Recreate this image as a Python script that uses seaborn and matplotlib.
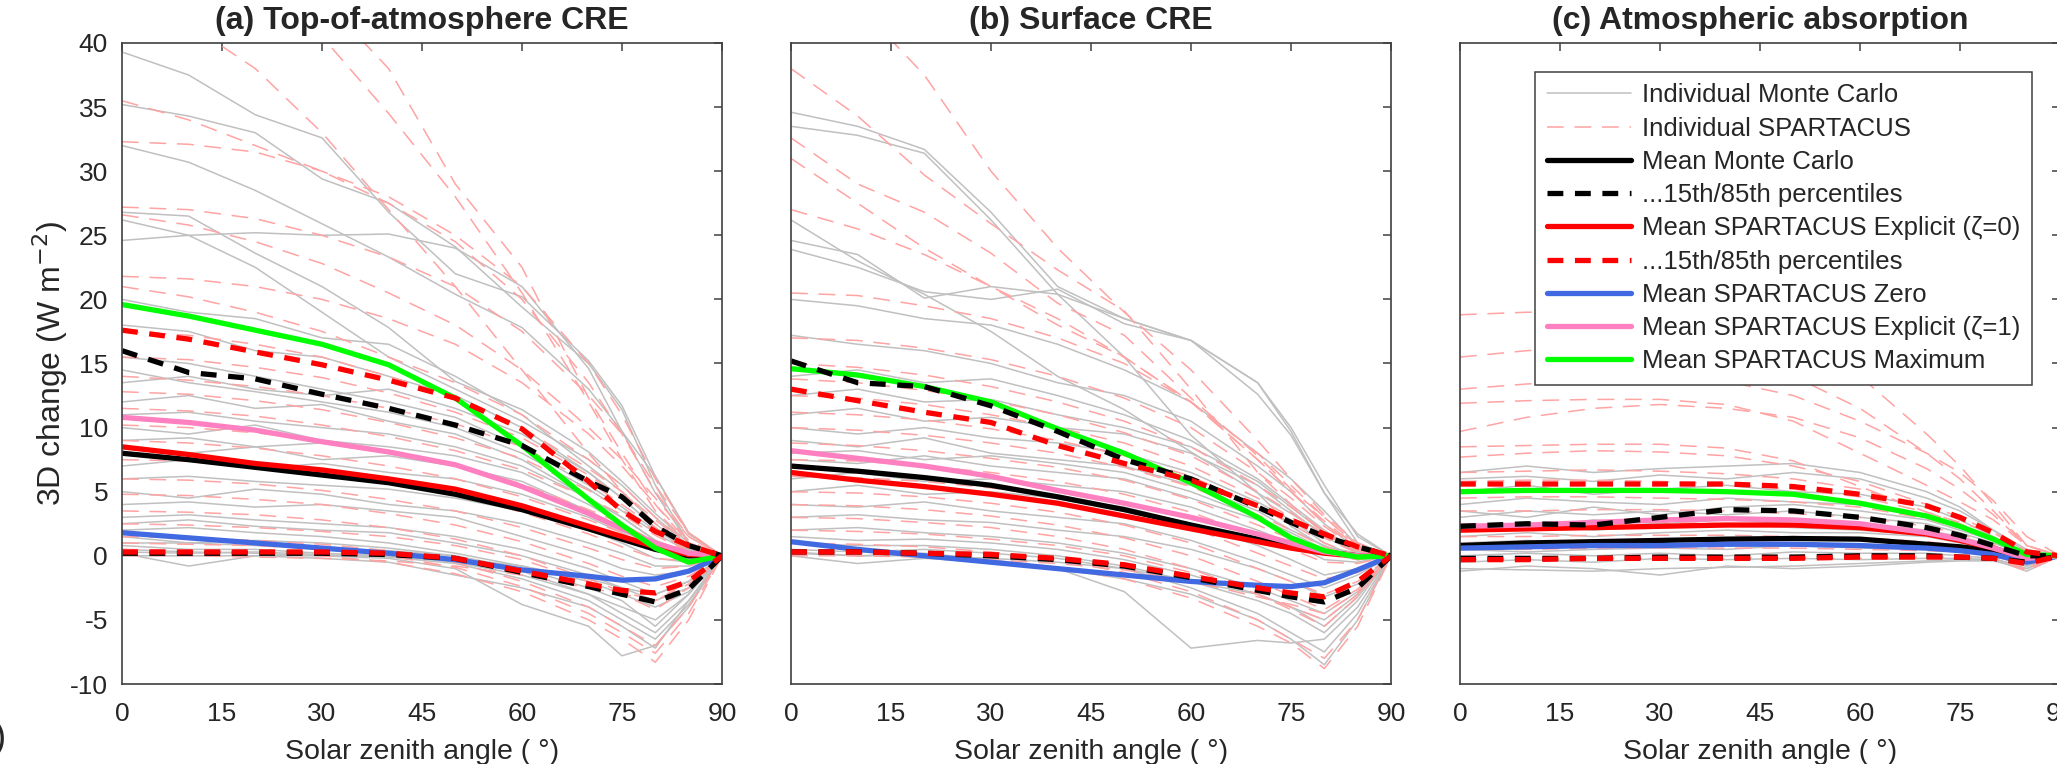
"""
3D radiative effect vs solar zenith angle: Monte Carlo vs SPARTACUS
"""
import pandas as pd
import matplotlib
matplotlib.use('Agg')
import matplotlib.pyplot as plt
import seaborn as sns
from matplotlib.lines import Line2D

# solar zenith angle grid (degrees)
sza = [0, 10, 20, 30, 40, 50, 60, 70, 75, 80, 85, 90]

# ---------------- (a) top-of-atmosphere CRE ----------------
mc_a = [
    [39.3, 37.5, 34.4, 32.6, 26.8, 22.0, 20.2, 15.2, 11.7, 6.2, 1.8, 0],
    [35.2, 34.3, 33.0, 29.4, 27.5, 24.1, 19.4, 15.0, 11.4, 5.5, 1.0, 0],
    [32.0, 30.7, 28.5, 25.9, 23.3, 20.4, 17.8, 13.0, 9.7, 6.2, 1.7, 0],
    [26.8, 26.5, 23.6, 21.0, 17.8, 13.6, 11.4, 8.1, 5.8, 3.3, 1.0, 0],
    [24.6, 25.0, 25.2, 25.0, 25.1, 24.0, 21.0, 14.6, 9.7, 4.9, 1.0, 0],
    [26.2, 25.0, 22.5, 19.0, 15.5, 13.0, 10.5, 7.5, 5.5, 3.0, 0.8, 0],
    [20.0, 19.0, 18.5, 17.0, 16.5, 14.0, 11.0, 7.0, 5.0, 2.5, 0.5, 0],
    [18.0, 17.5, 16.0, 15.5, 14.0, 12.5, 10.0, 6.5, 4.5, 2.2, 0.4, 0],
    [15.5, 15.0, 14.0, 13.0, 12.0, 10.8, 8.5, 5.5, 3.8, 2.0, 0.5, 0],
    [14.5, 13.5, 12.8, 12.0, 11.2, 10.0, 8.0, 5.2, 3.5, 1.8, 0.3, 0],
    [13.5, 14.0, 13.0, 12.5, 13.0, 11.5, 9.5, 6.5, 4.5, 2.2, 0.3, 0],
    [12.0, 12.5, 11.5, 11.8, 10.5, 9.5, 7.5, 4.5, 3.0, 1.2, 0.2, 0],
    [11.0, 11.2, 10.5, 10.0, 9.5, 8.5, 7.0, 4.5, 3.0, 1.2, 0.0, 0],
    [10.0, 9.5, 10.2, 9.0, 8.5, 7.8, 6.5, 4.0, 2.5, 1.0, 0.0, 0],
    [9.0, 9.2, 8.5, 8.8, 8.0, 7.0, 5.8, 3.5, 2.2, 0.8, -0.2, 0],
    [8.5, 8.0, 8.5, 7.5, 7.8, 7.0, 5.5, 3.5, 2.0, 0.8, -0.3, 0],
    [7.0, 7.5, 6.8, 7.2, 6.5, 6.0, 4.8, 3.0, 1.8, 0.5, -0.2, 0],
    [6.0, 6.2, 5.8, 5.5, 5.2, 4.5, 3.5, 2.0, 1.0, -0.2, -0.5, 0],
    [5.0, 4.5, 5.2, 4.8, 4.0, 3.5, 2.5, 1.0, 0.2, -0.8, -0.8, 0],
    [4.0, 4.2, 3.8, 4.0, 3.5, 3.0, 1.5, 0.0, -1.0, -1.5, -1.2, 0],
    [3.0, 3.2, 2.8, 2.5, 2.2, 1.5, 0.5, -1.0, -2.0, -3.0, -2.0, 0],
    [2.5, 2.8, 2.3, 2.0, 1.8, 1.0, 0.0, -1.5, -2.5, -3.5, -2.5, 0],
    [2.0, 2.2, 1.8, 1.5, 1.0, 0.2, -0.8, -2.0, -3.0, -4.0, -2.8, 0],
    [1.5, 1.0, 1.2, 1.0, 0.6, 0.0, -1.2, -3.0, -4.5, -6.0, -3.5, 0],
    [1.0, 1.0, 0.8, 0.6, 0.4, 0.0, -1.0, -2.5, -3.5, -5.5, -3.0, 0],
    [0.8, 0.5, 0.5, 0.2, 0.0, -0.5, -1.5, -3.0, -4.0, -5.0, -3.0, 0],
    [0.5, 0.3, 0.2, 0.0, -0.2, -1.0, -3.8, -5.5, -7.8, -7.0, -4.0, 0],
    [0.3, 0.2, 0.3, 0.1, -0.1, -0.6, -1.8, -3.5, -5.0, -6.5, -3.8, 0],
    [0.2, -0.8, 0.0, -0.2, -0.5, -1.5, -2.5, -4.0, -5.5, -7.2, -3.5, 0],
    [0.0, 0.0, 0.0, 0.0, 0.0, -0.2, -0.8, -1.8, -2.5, -3.0, -2.0, 0],
]
sp_a = [
    [43.0, 41.5, 38.0, 33.0, 27.0, 21.0, 14.5, 8.0, 5.0, 2.5, 0.7, 0],
    [48.0, 46.5, 44.0, 40.5, 34.5, 28.0, 20.5, 12.0, 7.5, 3.5, 1.0, 0],
    [50.0, 49.0, 46.5, 43.5, 38.0, 29.0, 22.5, 12.3, 8.0, 4.0, 1.0, 0],
    [35.5, 34.0, 32.0, 30.0, 27.5, 24.5, 20.0, 13.5, 9.5, 5.0, 1.5, 0],
    [32.3, 32.1, 31.5, 30.0, 28.0, 25.0, 21.0, 15.0, 11.0, 6.0, 1.8, 0],
    [27.2, 27.0, 26.3, 25.0, 23.3, 21.0, 17.5, 12.5, 9.5, 5.5, 1.8, 0],
    [26.6, 25.8, 24.5, 22.8, 20.5, 18.0, 14.5, 10.0, 7.5, 4.5, 1.5, 0],
    [21.8, 21.6, 21.0, 20.0, 18.5, 16.5, 13.5, 9.5, 7.0, 4.0, 1.2, 0],
    [21.0, 20.2, 19.0, 17.5, 15.5, 13.5, 11.0, 7.5, 5.5, 3.0, 1.0, 0],
    [17.5, 17.2, 16.5, 15.5, 14.0, 12.3, 10.0, 6.8, 5.0, 2.8, 0.8, 0],
    [15.5, 15.3, 14.7, 13.9, 12.7, 11.2, 9.2, 6.3, 4.5, 2.5, 0.7, 0],
    [14.0, 13.7, 13.2, 12.5, 11.5, 10.3, 8.5, 5.8, 4.0, 2.2, 0.6, 0],
    [12.8, 12.6, 12.1, 11.4, 10.4, 9.2, 7.6, 5.1, 3.6, 1.9, 0.4, 0],
    [11.5, 11.3, 10.9, 10.2, 9.3, 8.2, 6.7, 4.5, 3.2, 1.6, 0.3, 0],
    [10.2, 10.0, 9.6, 9.0, 8.2, 7.1, 5.6, 3.6, 2.5, 1.1, 0.1, 0],
    [9.0, 8.8, 8.4, 7.8, 7.0, 6.0, 4.6, 2.8, 1.8, 0.7, 0.0, 0],
    [7.5, 7.4, 7.0, 6.5, 5.7, 4.8, 3.4, 1.7, 0.7, -0.2, -0.4, 0],
    [6.0, 5.9, 5.6, 5.1, 4.4, 3.5, 2.2, 0.6, -0.3, -1.0, -0.8, 0],
    [4.8, 4.7, 4.4, 4.0, 3.3, 2.4, 1.1, -0.6, -1.6, -2.4, -1.6, 0],
    [3.5, 3.4, 3.2, 2.8, 2.2, 1.3, 0.0, -1.8, -2.8, -3.5, -2.2, 0],
    [2.5, 2.4, 2.2, 1.9, 1.5, 0.8, -0.3, -2.0, -3.0, -4.2, -2.5, 0],
    [1.5, 1.4, 1.2, 0.9, 0.4, -0.5, -2.0, -4.0, -5.5, -7.0, -4.0, 0],
    [1.0, 0.9, 0.8, 0.5, 0.0, -0.9, -2.4, -4.5, -6.0, -7.6, -4.5, 0],
    [0.5, 0.4, 0.3, 0.0, -0.5, -1.4, -2.8, -5.0, -6.5, -8.3, -5.0, 0],
    [0.0, 0.0, -0.1, -0.2, -0.4, -0.8, -1.5, -2.5, -3.0, -3.5, -2.0, 0],
]
mean_mc_a = [8.0, 7.5, 6.9, 6.3, 5.7, 4.8, 3.6, 2.1, 1.3, 0.5, 0.0, 0]
mc_hi_a = [16.0, 14.3, 13.8, 12.6, 11.5, 10.2, 8.6, 5.8, 4.6, 2.3, 0.8, 0]
mc_lo_a = [0.2, 0.2, 0.2, 0.2, 0.1, -0.2, -1.3, -2.4, -3.0, -3.6, -2.6, 0]
mean_exp_a = [8.5, 7.9, 7.2, 6.7, 6.0, 5.2, 3.9, 2.3, 1.5, 0.7, 0.1, 0]
exp_hi_a = [17.6, 16.9, 15.9, 14.9, 13.7, 12.3, 9.9, 5.8, 3.5, 1.9, 0.8, 0]
exp_lo_a = [0.3, 0.3, 0.3, 0.3, 0.2, -0.2, -1.2, -2.2, -2.7, -2.9, -2.0, 0]
mean_zero_a = [1.8, 1.4, 1.0, 0.6, 0.2, -0.3, -1.1, -1.6, -1.9, -1.8, -1.2, 0]
mean_exp1_a = [10.8, 10.4, 9.8, 8.9, 8.1, 7.1, 5.4, 3.3, 2.1, 1.0, 0.2, 0]
mean_max_a = [19.6, 18.7, 17.6, 16.5, 14.9, 12.3, 8.6, 4.4, 2.4, 0.6, -0.5, 0]

# ---------------- (b) surface CRE ----------------
mc_b = [
    [34.6, 33.5, 31.7, 26.8, 21.0, 18.5, 16.8, 13.5, 9.7, 4.9, 1.7, 0],
    [33.5, 32.8, 31.4, 26.2, 20.4, 15.5, 9.4, 4.9, 2.3, 0.7, 0.2, 0],
    [26.2, 23.0, 20.4, 17.5, 14.0, 11.4, 8.1, 4.9, 3.3, 1.7, 0.4, 0],
    [24.6, 23.5, 20.1, 21.0, 20.4, 18.5, 16.8, 12.6, 9.4, 4.9, 1.0, 0],
    [23.9, 22.5, 20.6, 20.0, 20.8, 18.1, 16.8, 13.5, 10.0, 5.5, 1.5, 0],
    [20.0, 19.5, 18.5, 18.0, 16.5, 14.5, 12.0, 8.0, 6.0, 3.5, 0.8, 0],
    [17.2, 16.5, 16.0, 15.0, 13.5, 12.5, 10.5, 7.0, 5.0, 2.5, 0.5, 0],
    [14.0, 14.5, 13.5, 13.8, 12.5, 11.0, 9.0, 6.0, 4.0, 2.0, 0.3, 0],
    [12.5, 13.0, 12.0, 12.2, 11.0, 10.0, 8.5, 5.8, 3.8, 1.8, 0.2, 0],
    [11.0, 11.5, 10.5, 10.8, 10.0, 9.5, 8.0, 5.5, 3.5, 1.5, 0.2, 0],
    [10.0, 9.5, 10.0, 9.2, 8.8, 8.0, 6.5, 4.2, 2.8, 1.0, -0.1, 0],
    [9.0, 8.5, 9.2, 8.0, 7.5, 7.0, 5.5, 3.5, 2.0, 0.8, -0.2, 0],
    [8.0, 8.2, 7.5, 7.8, 7.2, 6.5, 5.0, 3.0, 1.8, 0.5, -0.3, 0],
    [7.5, 7.2, 7.8, 7.0, 6.5, 6.0, 4.5, 2.8, 1.5, 0.2, -0.3, 0],
    [6.0, 6.5, 5.8, 6.0, 5.5, 5.0, 3.8, 2.0, 1.0, -0.3, -0.5, 0],
    [5.0, 5.5, 4.8, 5.0, 4.5, 3.8, 2.5, 0.8, -0.3, -1.5, -1.0, 0],
    [4.0, 3.8, 4.2, 3.5, 3.0, 2.5, 1.2, -0.5, -1.5, -2.5, -1.5, 0],
    [3.0, 3.2, 2.8, 2.6, 2.0, 1.5, 0.5, -1.0, -2.0, -3.2, -2.2, 0],
    [2.0, 2.2, 1.8, 1.5, 1.0, 0.2, -1.0, -2.5, -3.5, -4.5, -2.8, 0],
    [1.5, 1.2, 1.3, 1.0, 0.5, -0.3, -1.5, -3.0, -4.0, -5.5, -3.2, 0],
    [1.0, 0.8, 0.8, 0.5, 0.0, -0.8, -2.0, -3.5, -4.5, -6.0, -3.5, 0],
    [0.5, 0.3, 0.5, 0.2, -0.2, -1.0, -2.5, -4.5, -6.0, -7.5, -4.5, 0],
    [0.3, 0.0, 0.2, -0.3, -1.0, -2.8, -7.2, -6.6, -6.8, -6.5, -4.0, 0],
    [0.0, -0.6, -0.2, -0.5, -1.0, -1.8, -3.0, -5.0, -6.5, -8.5, -5.0, 0],
    [0.2, 0.0, 0.0, -0.2, -0.5, -1.0, -2.0, -3.0, -4.0, -5.0, -3.0, 0],
]
sp_b = [
    [46.0, 43.0, 37.5, 30.0, 24.0, 19.0, 14.5, 9.0, 6.0, 3.2, 1.0, 0],
    [38.0, 34.3, 29.7, 25.9, 22.3, 19.1, 13.0, 6.5, 4.0, 1.7, 0.4, 0],
    [32.6, 29.0, 26.8, 23.6, 19.7, 17.2, 12.3, 7.8, 5.2, 3.0, 0.8, 0],
    [31.0, 27.5, 24.0, 21.0, 18.0, 15.5, 12.0, 7.5, 5.0, 2.7, 0.7, 0],
    [27.0, 25.5, 23.5, 21.0, 18.5, 15.5, 12.0, 7.5, 5.0, 2.5, 0.6, 0],
    [20.5, 20.3, 19.5, 18.5, 17.0, 15.0, 12.0, 8.0, 5.5, 3.0, 0.8, 0],
    [17.0, 16.8, 16.2, 15.3, 14.0, 12.3, 10.0, 6.5, 4.5, 2.3, 0.5, 0],
    [15.0, 14.7, 14.1, 13.2, 12.0, 10.5, 8.5, 5.5, 3.8, 1.9, 0.4, 0],
    [13.8, 13.5, 12.9, 12.1, 11.0, 9.6, 7.8, 5.0, 3.4, 1.6, 0.3, 0],
    [12.5, 12.3, 11.8, 11.0, 10.0, 8.8, 7.0, 4.5, 3.0, 1.4, 0.2, 0],
    [11.2, 11.0, 10.6, 9.9, 9.0, 7.8, 6.2, 3.8, 2.5, 1.0, 0.0, 0],
    [10.0, 9.8, 9.4, 8.8, 8.0, 6.9, 5.4, 3.2, 2.0, 0.7, -0.1, 0],
    [8.8, 8.6, 8.2, 7.6, 6.9, 5.9, 4.4, 2.4, 1.3, 0.1, -0.3, 0],
    [7.5, 7.4, 7.0, 6.5, 5.8, 4.8, 3.4, 1.5, 0.5, -0.5, -0.6, 0],
    [6.2, 6.1, 5.8, 5.3, 4.6, 3.6, 2.2, 0.2, -0.8, -1.8, -1.3, 0],
    [5.0, 4.9, 4.6, 4.1, 3.4, 2.4, 1.0, -1.0, -2.0, -3.0, -2.0, 0],
    [4.0, 3.9, 3.6, 3.1, 2.4, 1.4, 0.0, -2.0, -3.1, -4.2, -2.6, 0],
    [3.0, 2.9, 2.6, 2.2, 1.5, 0.5, -1.0, -3.0, -4.2, -5.5, -3.2, 0],
    [2.0, 1.9, 1.7, 1.3, 0.8, 0.0, -1.3, -3.0, -4.0, -5.0, -3.0, 0],
    [1.0, 0.9, 0.7, 0.3, -0.3, -1.3, -2.8, -5.0, -6.5, -8.0, -5.0, 0],
    [0.3, 0.2, 0.0, -0.3, -0.9, -1.8, -3.3, -5.5, -6.8, -8.8, -5.5, 0],
    [0.0, 0.0, -0.1, -0.3, -0.6, -1.1, -2.0, -3.2, -3.8, -4.5, -2.8, 0],
]
mean_mc_b = [7.0, 6.6, 6.1, 5.5, 4.6, 3.6, 2.4, 1.3, 0.8, 0.3, 0.0, 0]
mc_hi_b = [15.2, 13.5, 13.2, 11.7, 9.7, 7.5, 6.0, 3.8, 2.6, 1.5, 0.7, 0]
mc_lo_b = [0.3, 0.3, 0.2, 0.0, -0.3, -0.8, -1.7, -2.7, -3.2, -3.6, -2.5, 0]
mean_exp_b = [6.5, 5.9, 5.4, 4.8, 4.1, 3.1, 2.1, 1.1, 0.6, 0.2, 0.0, 0]
exp_hi_b = [13.0, 12.1, 11.2, 10.4, 8.6, 7.2, 5.9, 3.9, 2.8, 1.7, 0.7, 0]
exp_lo_b = [0.3, 0.3, 0.2, 0.1, -0.2, -0.7, -1.6, -2.5, -2.9, -3.2, -2.0, 0]
mean_zero_b = [1.1, 0.5, 0.0, -0.5, -1.0, -1.5, -2.0, -2.3, -2.4, -2.1, -1.1, 0]
mean_exp1_b = [8.2, 7.6, 7.0, 6.2, 5.1, 4.1, 3.0, 1.7, 1.0, 0.3, 0.0, 0]
mean_max_b = [14.6, 14.1, 13.2, 12.0, 9.9, 8.0, 5.7, 3.0, 1.4, 0.4, -0.1, 0]

# ---------------- (c) atmospheric absorption ----------------
mc_c = [
    [6.5, 7.0, 6.5, 6.8, 7.0, 7.2, 6.5, 5.0, 3.8, 2.0, 0.3, 0],
    [6.0, 6.2, 5.8, 6.3, 6.0, 6.5, 6.0, 4.5, 3.5, 2.0, 0.5, 0],
    [5.0, 5.5, 4.8, 5.2, 5.5, 5.0, 4.8, 3.8, 2.8, 1.5, 0.2, 0],
    [4.0, 4.5, 4.2, 4.0, 4.5, 4.2, 4.0, 3.0, 2.2, 1.2, 0.0, 0],
    [3.5, 3.0, 3.8, 3.2, 3.8, 4.0, 3.5, 2.8, 2.0, 1.2, 0.0, 0],
    [3.0, 3.5, 3.2, 3.5, 3.2, 3.5, 3.0, 2.5, 1.8, 1.0, 0.0, 0],
    [2.5, 2.2, 2.8, 2.5, 2.8, 2.5, 2.5, 2.0, 1.5, 0.8, -0.2, 0],
    [2.0, 2.5, 2.0, 2.3, 2.5, 2.2, 2.0, 1.6, 1.2, 0.6, -0.3, 0],
    [1.5, 1.8, 1.5, 1.8, 2.0, 1.8, 1.8, 1.5, 1.0, 0.5, -0.3, 0],
    [1.0, 1.2, 1.0, 1.3, 1.2, 1.5, 1.2, 1.0, 0.8, 0.3, -0.5, 0],
    [0.5, 0.3, 0.5, 0.6, 0.5, 0.8, 0.6, 0.5, 0.3, 0.0, -0.8, 0],
    [0.0, 0.2, 0.0, 0.2, 0.0, 0.3, 0.2, 0.2, 0.0, -0.2, -1.0, 0],
    [-0.5, -0.3, -0.5, -0.2, -0.3, -0.2, -0.3, -0.2, -0.2, -0.3, -1.2, 0],
    [-1.2, -0.8, -1.0, -1.5, -0.8, -1.0, -0.8, -0.5, -0.4, -0.4, -1.0, 0],
    [-1.0, -1.1, -1.2, -1.0, -0.9, -0.8, -0.6, -0.4, -0.3, -0.3, -0.8, 0],
]
sp_c = [
    [18.8, 19.0, 19.0, 18.7, 18.0, 16.5, 14.0, 9.5, 7.0, 4.0, 0.8, 0],
    [15.5, 16.0, 16.3, 16.2, 15.5, 14.0, 11.5, 8.0, 6.0, 3.5, 0.8, 0],
    [13.0, 13.4, 13.7, 13.8, 13.6, 12.5, 10.5, 8.0, 6.5, 4.3, 1.5, 0],
    [11.9, 12.1, 12.2, 12.2, 11.8, 10.5, 8.0, 5.5, 4.2, 2.8, 0.8, 0],
    [9.7, 10.8, 11.5, 11.8, 11.5, 10.8, 9.2, 6.8, 5.2, 3.2, 0.8, 0],
    [8.5, 8.6, 8.7, 8.7, 8.4, 7.4, 5.4, 3.4, 2.6, 1.8, 0.4, 0],
    [7.7, 8.0, 8.2, 8.1, 7.8, 7.0, 5.8, 4.0, 3.0, 1.8, 0.3, 0],
    [6.5, 6.6, 6.7, 6.6, 6.4, 6.0, 5.2, 3.8, 2.8, 1.6, 0.0, 0],
    [5.8, 5.9, 5.9, 5.8, 5.6, 5.2, 4.6, 3.4, 2.5, 1.4, -0.2, 0],
    [4.5, 4.6, 4.6, 4.5, 4.4, 4.2, 3.8, 2.9, 2.2, 1.2, -0.4, 0],
    [3.5, 3.5, 3.6, 3.6, 3.5, 3.3, 3.0, 2.3, 1.7, 0.9, -0.6, 0],
    [2.5, 2.5, 2.6, 2.6, 2.5, 2.4, 2.2, 1.7, 1.2, 0.6, -0.8, 0],
    [1.5, 1.5, 1.6, 1.6, 1.6, 1.5, 1.4, 1.1, 0.8, 0.3, -1.0, 0],
    [0.5, 0.5, 0.6, 0.6, 0.6, 0.6, 0.5, 0.4, 0.3, 0.0, -1.1, 0],
    [-0.3, -0.3, -0.2, -0.2, -0.2, -0.2, -0.2, -0.1, -0.1, -0.2, -1.2, 0],
]
mean_mc_c = [0.8, 1.0, 1.1, 1.2, 1.3, 1.35, 1.3, 0.9, 0.7, 0.4, -0.1, 0]
mc_hi_c = [2.3, 2.5, 2.4, 3.0, 3.6, 3.5, 3.0, 2.2, 1.6, 0.8, 0.0, 0]
mc_lo_c = [-0.2, -0.2, -0.2, -0.1, -0.1, -0.1, 0.0, 0.0, -0.1, -0.2, -0.5, 0]
mean_exp_c = [2.0, 2.1, 2.2, 2.3, 2.4, 2.4, 2.2, 1.7, 1.2, 0.6, -0.2, 0]
exp_hi_c = [5.6, 5.6, 5.6, 5.6, 5.6, 5.4, 4.8, 3.9, 3.0, 1.8, 0.3, 0]
exp_lo_c = [-0.3, -0.3, -0.2, -0.2, -0.2, -0.2, -0.1, -0.1, -0.1, -0.2, -0.6, 0]
mean_zero_c = [0.6, 0.7, 0.8, 0.8, 0.9, 0.9, 0.8, 0.6, 0.4, 0.1, -0.5, 0]
mean_exp1_c = [2.3, 2.4, 2.6, 2.8, 2.9, 2.8, 2.5, 1.8, 1.3, 0.6, -0.2, 0]
mean_max_c = [5.0, 5.1, 5.1, 5.1, 5.0, 4.8, 4.1, 3.1, 2.3, 1.3, 0.1, 0]

titles = ['(a) Top-of-atmosphere CRE', '(b) Surface CRE', '(c) Atmospheric absorption']

GREY = '#c0c0c0'
LIGHTRED = '#ffa3a3'
PINK = '#ff80c0'
BLUE = '#4169e1'
GREEN = '#00ff00'
THIN = 1.1
THICK = 3.8
THIN_DASH = (0, (11, 7))
THICK_DASH = (0, (3, 2.2))


def long_frame(curves):
    """curves -> long table with one run id per curve"""
    rows = []
    for i, c in enumerate(curves):
        for x, y in zip(sza, c):
            rows.append((i, x, y))
    return pd.DataFrame(rows, columns=['run', 'sza', 'val'])


def draw_panel(ax, mc, sp, mean_mc, mc_hi, mc_lo, mean_exp, exp_hi, exp_lo,
               mean_zero, mean_exp1, mean_max):
    sns.lineplot(data=long_frame(mc), x='sza', y='val', units='run', estimator=None,
                 color=GREY, lw=THIN, ax=ax, legend=False)
    sns.lineplot(data=long_frame(sp), x='sza', y='val', units='run', estimator=None,
                 color=LIGHTRED, lw=THIN, linestyle=THIN_DASH, ax=ax, legend=False)

    sns.lineplot(x=sza, y=mean_mc, color='black', lw=THICK, ax=ax)
    sns.lineplot(x=sza, y=mean_exp, color='red', lw=THICK, ax=ax)
    sns.lineplot(x=sza, y=mean_zero, color=BLUE, lw=THICK, ax=ax)
    sns.lineplot(x=sza, y=mean_exp1, color=PINK, lw=THICK, ax=ax)
    sns.lineplot(x=sza, y=mean_max, color=GREEN, lw=THICK, ax=ax)
    for pct in (mc_hi, mc_lo):
        sns.lineplot(x=sza, y=pct, color='black', lw=THICK, linestyle=THICK_DASH, ax=ax)
    for pct in (exp_hi, exp_lo):
        sns.lineplot(x=sza, y=pct, color='red', lw=THICK, linestyle=THICK_DASH, ax=ax)


sns.set_theme(style='white')
plt.rcParams['font.family'] = ['Liberation Sans', 'DejaVu Sans']
plt.rcParams['axes.edgecolor'] = '#404040'
plt.rcParams['axes.linewidth'] = 1.2
plt.rcParams['axes.unicode_minus'] = False

fig = plt.figure(figsize=(20.57, 7.64), dpi=100)
lefts = [122, 791, 1460]
axes = [fig.add_axes([l / 2057, 1 - 684 / 764, 600 / 2057, 641 / 764]) for l in lefts]

panels = [
    (mc_a, sp_a, mean_mc_a, mc_hi_a, mc_lo_a, mean_exp_a, exp_hi_a, exp_lo_a,
     mean_zero_a, mean_exp1_a, mean_max_a),
    (mc_b, sp_b, mean_mc_b, mc_hi_b, mc_lo_b, mean_exp_b, exp_hi_b, exp_lo_b,
     mean_zero_b, mean_exp1_b, mean_max_b),
    (mc_c, sp_c, mean_mc_c, mc_hi_c, mc_lo_c, mean_exp_c, exp_hi_c, exp_lo_c,
     mean_zero_c, mean_exp1_c, mean_max_c),
]

for i, (ax, args) in enumerate(zip(axes, panels)):
    draw_panel(ax, *args)
    ax.set_xlim(0, 90)
    ax.set_ylim(-10, 40)
    ax.set_xticks(range(0, 91, 15))
    ax.set_yticks(range(-10, 41, 5))
    ax.tick_params(direction='in', length=6, width=1.1, top=True, right=True,
                   labelsize=19, colors='#404040', labelcolor='#262626', pad=10)
    ax.tick_params(axis='x', pad=13)
    ax.set_title(titles[i], fontsize=23, fontweight='bold', pad=10)
    ax.set_xlabel('Solar zenith angle ( °)', fontsize=20.5, color='#262626')
    ax.xaxis.set_label_coords(0.5, -0.086)
    if i == 0:
        ax.set_ylabel('3D change (W m$^{-2}$)', fontsize=23, color='#262626')
        ax.yaxis.set_label_coords(-0.086, 0.5)
    else:
        ax.set_ylabel('')
        ax.set_yticklabels([])
    for s in ax.spines.values():
        s.set_visible(True)

handles = [
    Line2D([], [], color=GREY, lw=THIN),
    Line2D([], [], color=LIGHTRED, lw=THIN, linestyle=THIN_DASH),
    Line2D([], [], color='black', lw=THICK),
    Line2D([], [], color='black', lw=THICK, linestyle=THICK_DASH),
    Line2D([], [], color='red', lw=THICK),
    Line2D([], [], color='red', lw=THICK, linestyle=THICK_DASH),
    Line2D([], [], color=BLUE, lw=THICK),
    Line2D([], [], color=PINK, lw=THICK),
    Line2D([], [], color=GREEN, lw=THICK),
]
labels = [
    'Individual Monte Carlo',
    'Individual SPARTACUS',
    'Mean Monte Carlo',
    '...15th/85th percentiles',
    'Mean SPARTACUS Explicit (ζ=0)',
    '...15th/85th percentiles',
    'Mean SPARTACUS Zero',
    'Mean SPARTACUS Explicit (ζ=1)',
    'Mean SPARTACUS Maximum',
]
leg = axes[2].legend(handles, labels, loc='upper left', bbox_to_anchor=(0.125, 0.955),
                     borderaxespad=0, fontsize=18.5, handlelength=3.3, handletextpad=0.4,
                     labelspacing=0.36, borderpad=0.45, fancybox=False, framealpha=1)
leg.get_frame().set_edgecolor('#404040')
leg.get_frame().set_linewidth(1.1)

fig.text(-0.003, 0.01, ')', fontsize=26, ha='left', va='bottom')

fig.savefig('out.png', dpi=100)
